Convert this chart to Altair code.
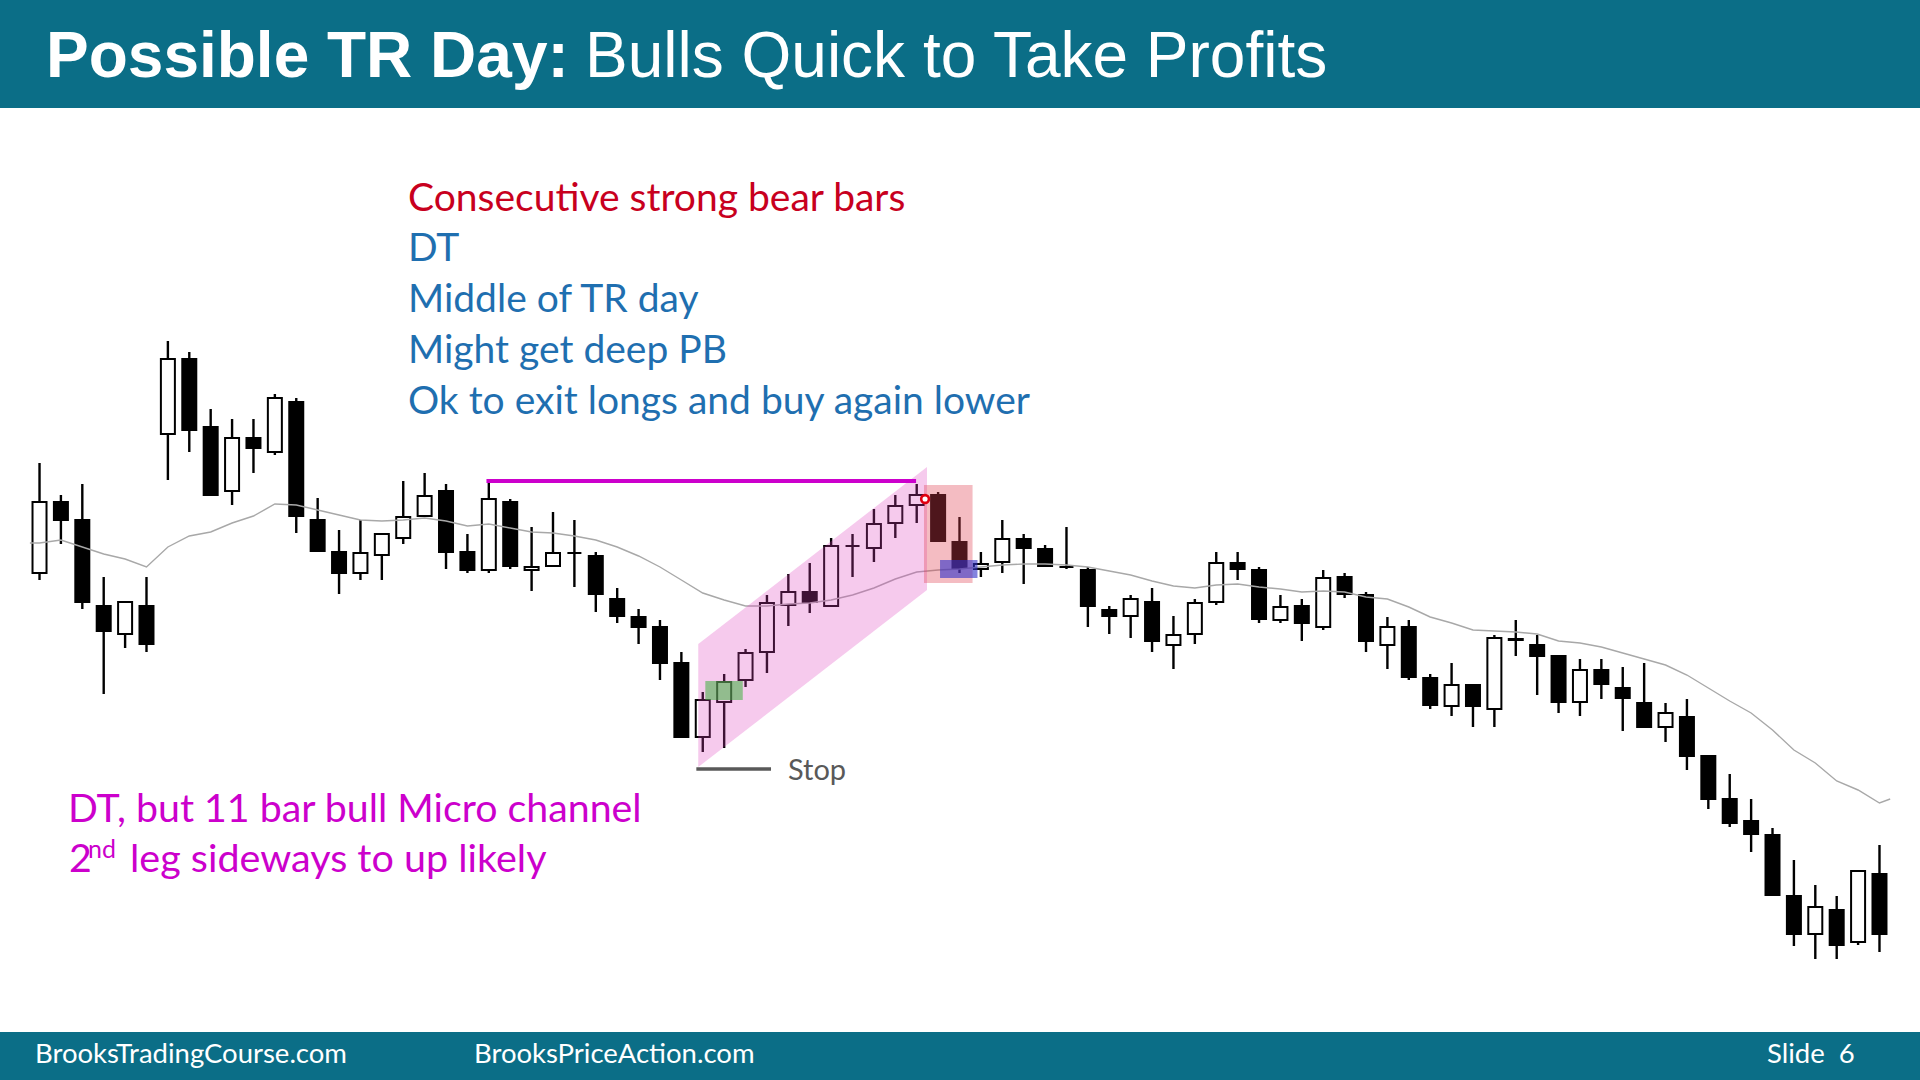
import altair as alt
import pandas as pd

# ---------------- data (price units; bar index 1..87) ----------------
bar_index = list(range(1, 88))
highs = [637, 605, 616, 523, 498, 523, 759, 748, 691, 681, 681, 706, 702, 602, 570, 580, 566, 619, 627, 616,
         566, 619, 601, 573, 588, 580, 548, 512, 491, 480, 448, 408, 426, 451, 505, 526, 537, 562, 566, 591,
         605, 616, 608, 583, 548, 580, 566, 555, 573, 533, 494, 505, 512, 484, 501, 548, 548, 533, 505, 501,
         530, 527, 508, 483, 480, 426, 437, 415, 465, 480, 465, 444, 441, 441, 433, 437, 397, 401, 344, 326,
         301, 272, 240, 215, 204, 229, 255]
lows = [520, 556, 491, 406, 452, 448, 620, 648, 605, 595, 627, 645, 567, 549, 506, 520, 520, 556, 584, 531,
        527, 527, 531, 509, 534, 513, 488, 477, 456, 420, 363, 348, 352, 413, 427, 474, 487, 494, 523, 538,
        562, 577, 559, 527, 523, 527, 516, 534, 531, 473, 466, 462, 448, 431, 456, 495, 520, 477, 477, 459,
        470, 502, 448, 431, 420, 391, 384, 373, 373, 444, 405, 387, 384, 401, 369, 373, 358, 330, 291, 273,
        248, 205, 154, 141, 141, 155, 148]
opens = [527, 598, 580, 494, 466, 494, 666, 741, 673, 609, 662, 648, 698, 580, 548, 527, 545, 562, 584, 609,
         548, 530, 598, 530, 534, 547, 544, 501, 483, 473, 437, 363, 398, 420, 448, 495, 508, 494, 554, 552,
         577, 595, 605, 558, 531, 538, 561, 551, 533, 530, 490, 484, 498, 455, 466, 498, 537, 530, 480, 494,
         473, 523, 505, 455, 473, 422, 394, 415, 391, 461, 455, 444, 398, 430, 412, 397, 373, 383, 344, 301,
         279, 265, 204, 166, 190, 158, 226]
closes = [598, 580, 498, 469, 498, 456, 741, 670, 605, 662, 652, 702, 584, 549, 527, 547, 566, 583, 604, 548,
          530, 601, 534, 533, 547, 547, 506, 484, 473, 437, 363, 400, 418, 447, 497, 508, 498, 554, 554, 576,
          594, 605, 559, 532, 536, 561, 552, 534, 533, 494, 484, 501, 459, 465, 497, 537, 531, 481, 493, 477,
          522, 506, 459, 473, 423, 395, 415, 394, 462, 460, 444, 398, 430, 416, 402, 373, 387, 344, 301, 277,
          266, 205, 166, 193, 155, 229, 166]

ema_index = [0.55] + list(range(1, 88)) + [87.5]
ema_values = [557, 557, 560, 553, 546, 541, 533, 553, 564, 568, 577, 584, 596, 595, 590, 585, 580, 579, 580, 582,
              579, 574, 576, 572, 568, 567, 564, 560, 553, 544, 533, 520, 507, 500, 494, 494, 496, 497, 500, 505,
              512, 521, 528, 530, 531, 533, 535, 536, 536, 535, 533, 529, 525, 519, 514, 512, 515, 516, 513, 511,
              508, 509, 508, 503, 501, 493, 483, 477, 470, 469, 468, 466, 459, 457, 453, 447, 441, 435, 425, 412,
              399, 387, 370, 350, 337, 319, 310, 297, 301]

# annotations (bar index / price units)
channel_x = [31.79, 42.48]
channel_low = [333, 510]
channel_high = [456, 633]
red_box = dict(x=42.34, x2=44.61, y=517, y2=615)
blue_box = dict(x=43.09, x2=44.84, y=522, y2=540)
green_box = dict(x=32.12, x2=33.87, y=400, y2=419)
dt_line = dict(x=21.89, x2=41.97, y=619)
stop_line = dict(x=31.70, x2=35.19, y=331)
entry_dot = dict(x=42.39, y=601)

title_bold = "Possible TR Day:"
title_rest = "Bulls Quick to Take Profits"
notes_red = ["Consecutive strong bear bars"]
notes_blue = ["DT", "Middle of TR day", "Might get deep PB", "Ok to exit longs and buy again lower"]
notes_magenta = ["DT, but 11 bar bull Micro channel", "2", "nd", "leg sideways to up likely"]
footer_texts = ["BrooksTradingCourse.com", "BrooksPriceAction.com", "Slide\u00a0\u00a06"]

# ---------------- style ----------------
W, H = 1920, 1080
TEAL = "#0B6E87"
BLUE = "#1F6FB0"
RED = "#C8001E"
MAGENTA = "#CC00CC"
FONT = "Lato"

xs = alt.Scale(domain=[-0.6134, 88.66], nice=False, zero=False)
ys = alt.Scale(domain=[20, 1100], nice=False, zero=False)

candles = pd.DataFrame({"i": bar_index, "open": opens, "high": highs, "low": lows, "close": closes})
candles["bull"] = candles["close"] > candles["open"]
ema = pd.DataFrame({"i": ema_index, "ema": ema_values})

X = lambda f: alt.X(f, type="quantitative", scale=xs, axis=None)
Y = lambda f: alt.Y(f, type="quantitative", scale=ys, axis=None)

one = pd.DataFrame({"a": [0]})

header = alt.Chart(one).mark_rect(color=TEAL).encode(
    x=alt.value(0), x2=alt.value(W), y=alt.value(0), y2=alt.value(108))
footer = alt.Chart(one).mark_rect(color=TEAL).encode(
    x=alt.value(0), x2=alt.value(W), y=alt.value(1032), y2=alt.value(H))

wicks = alt.Chart(candles).mark_rule(color="black", strokeWidth=2.4).encode(
    x=X("i"), y=Y("low"), y2="high")
bodies = alt.Chart(candles).mark_bar(size=14, stroke="black", strokeWidth=2).encode(
    x=X("i"), y=Y("open"), y2="close",
    fill=alt.condition("datum.bull", alt.value("white"), alt.value("black")))
ema_line = alt.Chart(ema).mark_line(color="#A8A8A8", strokeWidth=1.4).encode(
    x=X("i"), y=Y("ema"))

channel = alt.Chart(pd.DataFrame({"x": channel_x, "lo": channel_low, "hi": channel_high})).mark_area(
    color="#E040C0", opacity=0.28).encode(x=X("x"), y=Y("lo"), y2="hi")


def box(d, color, op):
    return alt.Chart(pd.DataFrame([d])).mark_rect(color=color, opacity=op).encode(
        x=X("x"), x2="x2", y=Y("y"), y2="y2")


red = box(red_box, "#E04050", 0.35)
blue = box(blue_box, "#3030C8", 0.6)
green = box(green_box, "#40B040", 0.55)

dtl = alt.Chart(pd.DataFrame([dt_line])).mark_rule(color=MAGENTA, strokeWidth=4).encode(
    x=X("x"), x2="x2", y=Y("y"))
stopl = alt.Chart(pd.DataFrame([stop_line])).mark_rule(color="#595959", strokeWidth=3.5).encode(
    x=X("x"), x2="x2", y=Y("y"))
dot = alt.Chart(pd.DataFrame([entry_dot])).mark_point(
    shape="circle", size=60, filled=True, fill="white", stroke="#E00010", strokeWidth=2.6, opacity=1).encode(
    x=X("x"), y=Y("y"))


def txt(s, x, y, size, color, font=FONT, weight="normal", baseline="alphabetic", align="left"):
    return alt.Chart(pd.DataFrame({"t": [s]})).mark_text(
        font=font, fontSize=size, fontWeight=weight, color=color, align=align, baseline=baseline
    ).encode(x=alt.value(x), y=alt.value(y), text="t:N")


texts = [
    txt(title_bold, 46, 77, 64, "white", font="Liberation Sans", weight="bold"),
    txt(title_rest, 585, 77, 64, "white", font="Liberation Sans"),
    txt(notes_red[0], 408, 210.5, 39, RED),
]
for s, yb in zip(notes_blue, [261, 312, 363, 413.5]):
    texts.append(txt(s, 408, yb, 39, BLUE))
texts += [
    txt(notes_magenta[0], 68, 821.5, 39.3, MAGENTA),
    txt(notes_magenta[1], 69, 872, 39.3, MAGENTA),
    txt(notes_magenta[2], 88, 858, 25, MAGENTA),
    txt(notes_magenta[3], 130, 872, 39.5, MAGENTA),
    txt("Stop", 788, 780, 29, "#595959"),
    txt(footer_texts[0], 35, 1055, 27.5, "white", baseline="middle"),
    txt(footer_texts[1], 474, 1055, 27.5, "white", baseline="middle"),
    txt(footer_texts[2], 1767, 1055, 27.5, "white", baseline="middle"),
]

chart = alt.layer(
    header, footer, wicks, bodies, ema_line, channel, red, blue, green, dtl, stopl, dot, *texts
).properties(
    width=W, height=H, padding=0, autosize=alt.AutoSizeParams(type="none"), background="white"
).configure_view(stroke=None)

chart.save("out.html", embed_options={"renderer": "svg", "actions": False})
